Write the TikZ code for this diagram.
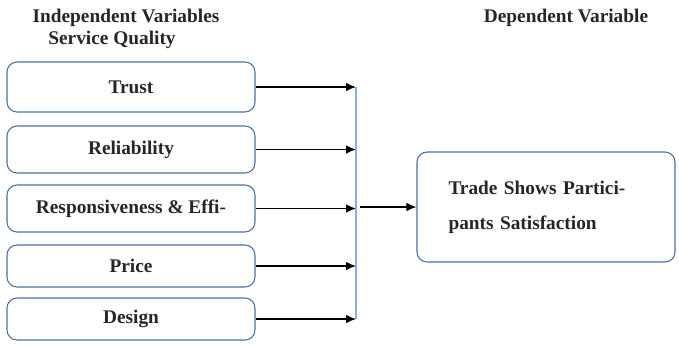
\documentclass[tikz,border=0pt]{standalone}
\usepackage{fontspec}
\setmainfont{Liberation Serif}
\usepackage{tikz}
\usetikzlibrary{positioning,arrows.meta}

\definecolor{boxblue}{HTML}{4A6FA5}
\definecolor{barblue}{HTML}{8AAEE0}

\begin{document}
\begin{tikzpicture}[->, >={Latex[length=2mm,width=1.7mm]}, semithick, font=\bfseries\fontsize{11}{13}\selectfont,
	var/.style={draw=boxblue, rounded corners=0.2cm, minimum width=4.96cm, align=center, text=black!85},
	head/.style={text=black!85}]
	\useasboundingbox (0,0) rectangle (13.58,-6.92);
	
	\node[head] (H1) at (2.52,-0.36) {Independent Variables};
	\node[head] (H2) at (2.24,-0.80) {Service Quality};
	\node[head] (H3) at (11.32,-0.36) {Dependent Variable};
	
	\node[var, minimum height=1.0cm] (A) at (2.62,-1.74) {Trust};
	\node[var, minimum height=0.94cm] (B) at (2.62,-2.99) {Reliability};
	\node[var, minimum height=0.94cm] (C) at (2.62,-4.17) {Responsiveness \& Effi-};
	\node[var, minimum height=0.84cm] (D) at (2.62,-5.32) {Price};
	\node[var, minimum height=0.84cm] (E) at (2.62,-6.38) {Design};
	\node[var, minimum width=5.16cm, minimum height=2.2cm, text width=3.9cm, align=left] (F) at (10.92,-4.14) {Trade Shows Partici-\\[7pt]pants Satisfaction};
	
	\coordinate (a) at (7.12,-1.74);
	\coordinate (b) at (7.12,-2.99);
	\coordinate (c) at (7.12,-4.17);
	\coordinate (d) at (7.12,-5.32);
	\coordinate (e) at (7.12,-6.38);
	\coordinate (f) at (7.20,-4.14);
	
	\draw (A.east) -> (a);
	\draw (B.east) -> (b);
	\draw (C.east) -> (c);
	\draw (D.east) -> (d);
	\draw (E.east) -> (e);
	
	\draw[-, barblue] (a) -- (e);
	\draw (f) -> (F.west);
	
\end{tikzpicture}
\end{document}
